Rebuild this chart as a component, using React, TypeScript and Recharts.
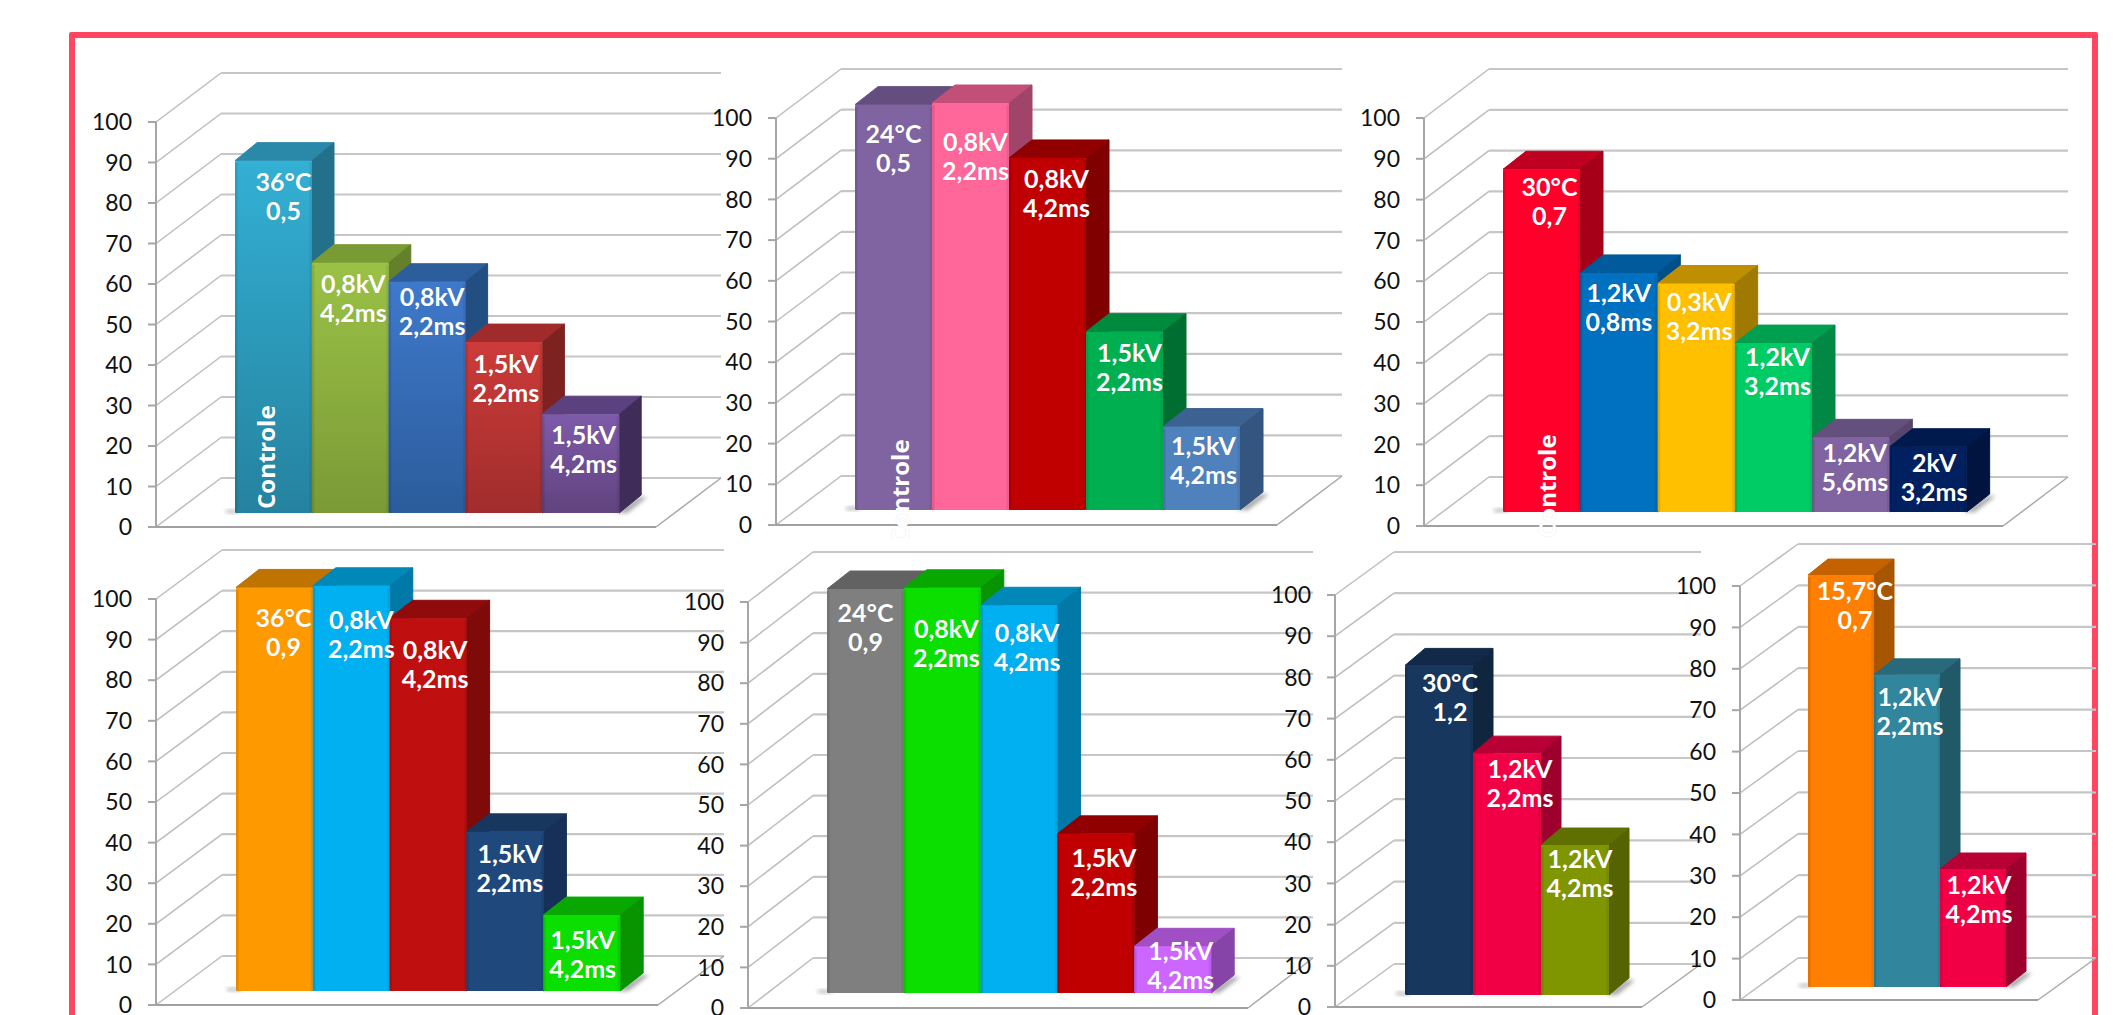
import React from 'react';
import { BarChart, Bar, XAxis, YAxis, CartesianGrid, LabelList } from 'recharts';

const ticks = [0, 10, 20, 30, 40, 50, 60, 70, 80, 90, 100];
const ctrl = 'Controle';

// values per panel
const valuesA = [87, 61.8, 57.1, 42.2, 24.4];
const valuesB = [99.6, 100, 86.5, 43.8, 20.5];
const valuesC = [84, 58.6, 56, 41.4, 18.3, 16];
const valuesD = [99.4, 99.8, 91.8, 39.2, 18.7];
const valuesE = [99.5, 99.8, 95.5, 39.2, 11.5];
const valuesF = [80, 58.7, 36.4];
const valuesG = [99.5, 75.4, 28.5];

const labelsA = [['36°C', '0,5'], ['0,8kV', '4,2ms'], ['0,8kV', '2,2ms'], ['1,5kV', '2,2ms'], ['1,5kV', '4,2ms']];
const labelsB = [['24°C', '0,5'], ['0,8kV', '2,2ms'], ['0,8kV', '4,2ms'], ['1,5kV', '2,2ms'], ['1,5kV', '4,2ms']];
const labelsC = [['30°C', '0,7'], ['1,2kV', '0,8ms'], ['0,3kV', '3,2ms'], ['1,2kV', '3,2ms'], ['1,2kV', '5,6ms'], ['2kV', '3,2ms']];
const labelsD = [['36°C', '0,9'], ['0,8kV', '2,2ms'], ['0,8kV', '4,2ms'], ['1,5kV', '2,2ms'], ['1,5kV', '4,2ms']];
const labelsE = [['24°C', '0,9'], ['0,8kV', '2,2ms'], ['0,8kV', '4,2ms'], ['1,5kV', '2,2ms'], ['1,5kV', '4,2ms']];
const labelsF = [['30°C', '1,2'], ['1,2kV', '2,2ms'], ['1,2kV', '4,2ms']];
const labelsG = [['15,7°C', '0,7'], ['1,2kV', '2,2ms'], ['1,2kV', '4,2ms']];

// front / top / side colours
const frontsA = ['#33B0D4', '#9BC146', '#3F79CC', '#CC3B39', '#7E5BA9'];
const bottomsA = ['#25829F', '#7A9A36', '#2B5C9B', '#A02D2C', '#61437F'];
const topsA = ['#2A88A8', '#7A9A33', '#2C5E9C', '#A02B2A', '#5C4180'];
const sidesA = ['#22708A', '#64802B', '#234E82', '#7E2221', '#3F2C58'];

const frontsB = ['#8064A2', '#FF6699', '#C00000', '#00B050', '#4F81BD'];
const topsB = ['#644E80', '#C24F78', '#900000', '#008A3E', '#3C6292'];
const sidesB = ['#5C4870', '#A0446A', '#800000', '#006E30', '#335580'];

const frontsC = ['#FF002B', '#0070C0', '#FFC000', '#00CC66', '#8064A2', '#002060'];
const topsC = ['#C00020', '#005A9C', '#BE8F00', '#00A050', '#63507C', '#001A4D'];
const sidesC = ['#A50018', '#004F88', '#A07A00', '#008844', '#57456E', '#001440'];

const frontsD = ['#FF9900', '#00B0F0', '#C00F0F', '#1F497D', '#0ADF00'];
const topsD = ['#BF7300', '#0088B8', '#900B0B', '#17375E', '#08A800'];
const sidesD = ['#A86500', '#0078A8', '#7F0A0A', '#17305A', '#089400'];

const frontsE = ['#7F7F7F', '#0ADF00', '#00B0F0', '#C00000', '#CC66FF'];
const topsE = ['#626262', '#08A800', '#0088B8', '#900000', '#A04FC4'];
const sidesE = ['#5A5A5A', '#089400', '#0078A8', '#7F0000', '#8644A8'];

const frontsF = ['#17375E', '#F20045', '#7F9600'];
const topsF = ['#12294A', '#B80035', '#5F7000'];
const sidesF = ['#10263F', '#9E002E', '#556300'];

const frontsG = ['#FF7F00', '#31859C', '#F20045'];
const topsG = ['#C46200', '#286A7C', '#B80035'];
const sidesG = ['#A85500', '#215968', '#9E002E'];

// label nudges from the top centre of each bar: [dx, dy]
const nudgesA = [[10, 20], [3, 20], [5, 14], [2, 21], [3, 20]];
const nudgesB = [[0, 28], [5, 38], [9, 20], [5, 20], [2, 18]];
const nudgesC = [[8, 17], [0, 19], [3, 17], [4, 13], [4, 15], [6, 15]];
const nudgesD = [[9, 30], [10, 33], [7, 31], [5, 21], [1, 24]];
const nudgesE = [[0, 23], [4, 40], [8, 27], [8, 23], [8, 4]];
const nudgesF = [[11, 17], [13, 15], [5, 13]];
const nudgesG = [[14, 15], [3, 21], [6, 15]];

const FONT = 'Lato, sans-serif';

type Panel = {
  id: string;
  values: number[];
  labels: string[][];
  fronts: string[];
  bottoms?: string[];
  tops: string[];
  sides: string[];
  nudges: number[][];
  axisX: number;
  y100: number;
  y0: number;
  floorRight: number;
  wallDx: number;
  wallDy: number;
  barLeft: number;
  barRight: number;
  baseline: number;
  depthX: number;
  depthY: number;
  ctrlDx: number;
  ctrlLift: number;
};

const panels: Panel[] = [
  { id: 'a', values: valuesA, labels: labelsA, fronts: frontsA, bottoms: bottomsA, tops: topsA, sides: sidesA, nudges: nudgesA,
    axisX: 156, y100: 122, y0: 527, floorRight: 656, wallDx: 65, wallDy: 49, barLeft: 235, barRight: 619, baseline: 513, depthX: 22, depthY: 18, ctrlDx: -8, ctrlLift: 66 },
  { id: 'b', values: valuesB, labels: labelsB, fronts: frontsB, tops: topsB, sides: sidesB, nudges: nudgesB,
    axisX: 776, y100: 118, y0: 525, floorRight: 1277, wallDx: 65, wallDy: 49, barLeft: 855, barRight: 1240, baseline: 510, depthX: 23, depthY: 18, ctrlDx: 6, ctrlLift: 25 },
  { id: 'c', values: valuesC, labels: labelsC, fronts: frontsC, tops: topsC, sides: sidesC, nudges: nudgesC,
    axisX: 1424, y100: 118, y0: 526, floorRight: 2003, wallDx: 65, wallDy: 49, barLeft: 1503, barRight: 1967, baseline: 512, depthX: 23, depthY: 18, ctrlDx: 5, ctrlLift: 32 },
  { id: 'd', values: valuesD, labels: labelsD, fronts: frontsD, tops: topsD, sides: sidesD, nudges: nudgesD,
    axisX: 156, y100: 599, y0: 1005, floorRight: 658, wallDx: 66, wallDy: 49, barLeft: 236, barRight: 620, baseline: 991, depthX: 23, depthY: 18, ctrlDx: 9, ctrlLift: 23 },
  { id: 'e', values: valuesE, labels: labelsE, fronts: frontsE, tops: topsE, sides: sidesE, nudges: nudgesE,
    axisX: 748, y100: 602, y0: 1008, floorRight: 1248, wallDx: 65, wallDy: 50, barLeft: 827, barRight: 1211, baseline: 993, depthX: 23, depthY: 18, ctrlDx: 5, ctrlLift: 30 },
  { id: 'f', values: valuesF, labels: labelsF, fronts: frontsF, tops: topsF, sides: sidesF, nudges: nudgesF,
    axisX: 1335, y100: 595, y0: 1007, floorRight: 1642, wallDx: 59, wallDy: 43, barLeft: 1405, barRight: 1609, baseline: 995, depthX: 20, depthY: 17, ctrlDx: -3, ctrlLift: 45 },
  { id: 'g', values: valuesG, labels: labelsG, fronts: frontsG, tops: topsG, sides: sidesG, nudges: nudgesG,
    axisX: 1740, y100: 586, y0: 1000, floorRight: 2038, wallDx: 58, wallDy: 42, barLeft: 1808, barRight: 2006, baseline: 987, depthX: 20, depthY: 16, ctrlDx: -5, ctrlLift: 37 },
];

const AXIS_W = 70;
const TOP_M = 60;

const pts = (list: number[][]) => list.map((p) => p.join(',')).join(' ');

// a front face plus extruded top and side
const Box3D = (props: any, p: Panel) => {
  const { x, y, width, height, index } = props;
  const lift = p.y0 - p.baseline;
  const top = y - lift;
  const bottom = y + height - lift;
  const r = x + width;
  const dx = p.depthX;
  const dy = p.depthY;
  const last = index === p.values.length - 1;
  const fill = p.bottoms ? `url(#front-${p.id}-${index})` : p.fronts[index];
  return (
    <g>
      {index === 0 && (
        <rect x={x - 9} y={bottom - 3} width={14} height={3} fill="#000" opacity={0.3} filter="url(#soft)" />
      )}
      {last && (
        <polygon
          points={pts([[r - 4, bottom], [r + dx - 2, bottom - dy + 2], [r + dx + 6, bottom - dy + 2], [r + 8, bottom]])}
          fill="#000"
          opacity={0.35}
          filter="url(#soft)"
        />
      )}
      <polygon points={pts([[x, top], [x + dx, top - dy], [r + dx, top - dy], [r, top]])} fill={p.tops[index]} stroke={p.tops[index]} strokeLinejoin="round" />
      <polygon points={pts([[r, top], [r + dx, top - dy], [r + dx, bottom - dy], [r, bottom]])} fill={p.sides[index]} stroke={p.sides[index]} strokeLinejoin="round" />
      <rect x={x} y={top} width={width} height={height} rx={1.5} fill={fill} />
      <rect x={x} y={top + 2} width={2.5} height={height - 2} fill="#000" opacity={0.1} />
      <rect x={r - 2.5} y={top + 2} width={2.5} height={height - 2} fill="#000" opacity={0.07} />
    </g>
  );
};

// the two lines of text on a bar, plus the rotated "Controle" on the first one
const BarText = (props: any, p: Panel) => {
  const { index } = props;
  const vb = props.viewBox ?? props;
  const lift = p.y0 - p.baseline;
  const top = vb.y - lift;
  const cx = vb.x + vb.width / 2 + p.nudges[index][0];
  const line1 = top + p.nudges[index][1];
  const lines = p.labels[index];
  const ctrlX = vb.x + vb.width / 2 + p.ctrlDx;
  const ctrlY = p.baseline - p.ctrlLift;
  return (
    <g fontFamily={FONT} fontWeight={700} fill="#fff" style={{ textShadow: '0 0 1px rgba(0,0,0,0.15)' }}>
      <text x={cx} y={line1} textAnchor="middle" dominantBaseline="central" fontSize={25}>{lines[0]}</text>
      <text x={cx} y={line1 + 29} textAnchor="middle" dominantBaseline="central" fontSize={25}>{lines[1]}</text>
      {index === 0 && (
        <text
          x={ctrlX}
          y={ctrlY}
          transform={`rotate(-90 ${ctrlX} ${ctrlY})`}
          dominantBaseline="central"
          fontFamily="'Open Sans', sans-serif"
          fontSize={24}
        >
          {ctrl}
        </text>
      )}
    </g>
  );
};

// side wall diagonals, back wall lines and the floor edges
const WallLine = (props: any, p: Panel) => {
  const { x1, y1, x2 } = props;
  const bx = x1 + p.wallDx;
  const by = y1 - p.wallDy;
  const isFloor = Math.abs(y1 - (TOP_M + p.y0 - p.y100)) < 1;
  return (
    <g key={`w-${p.id}-${y1}`} fill="none">
      <line x1={x1} y1={y1} x2={bx} y2={by} stroke="#BDBDBD" strokeWidth={1.5} />
      <line x1={bx} y1={by} x2={x2 + p.wallDx} y2={by} stroke="#C6C6C6" strokeWidth={2.2} />
      {isFloor && <line x1={x1} y1={y1} x2={x2} y2={y1} stroke="#A0A0A0" strokeWidth={2.2} />}
      {isFloor && <line x1={x2} y1={y1} x2={x2 + p.wallDx} y2={by} stroke="#A8A8A8" strokeWidth={1.5} />}
    </g>
  );
};

const PanelChart = ({ p }: { p: Panel }) => {
  const data = p.values.map((value, i) => ({ name: `b${i}`, value }));
  const plotH = p.y0 - p.y100;
  const plotW = p.floorRight - p.axisX;
  const width = AXIS_W + plotW + p.wallDx + 6;
  const height = TOP_M + plotH + 14;
  return (
    <div style={{ position: 'absolute', left: p.axisX - AXIS_W, top: p.y100 - TOP_M }}>
      <BarChart
        width={width}
        height={height}
        data={data}
        margin={{ top: TOP_M, right: p.wallDx + 6, bottom: 14, left: 0 }}
        barCategoryGap={0}
        barGap={0}
        style={{ overflow: 'visible' }}
      >
        <defs>
          <filter id="soft" x="-50%" y="-50%" width="200%" height="200%">
            <feGaussianBlur stdDeviation="2" />
          </filter>
          {p.bottoms &&
            p.fronts.map((c, i) => (
              <linearGradient key={c} id={`front-${p.id}-${i}`} x1="0" y1="0" x2="0" y2="1">
                <stop offset="0%" stopColor={c} />
                <stop offset="100%" stopColor={p.bottoms![i]} />
              </linearGradient>
            ))}
        </defs>
        <CartesianGrid vertical={false} horizontal={(props: any) => WallLine(props, p)} />
        <XAxis dataKey="name" hide padding={{ left: p.barLeft - p.axisX, right: p.floorRight - p.barRight }} />
        <YAxis
          domain={[0, 100]}
          ticks={ticks}
          interval={0}
          width={AXIS_W}
          tickSize={8}
          tickMargin={16}
          axisLine={{ stroke: '#A6A6A6', strokeWidth: 2 }}
          tickLine={{ stroke: '#A6A6A6', strokeWidth: 2 }}
          tick={{ fill: '#111', fontSize: 23, fontFamily: FONT }}
        />
        <Bar dataKey="value" isAnimationActive={false} shape={(props: any) => Box3D(props, p)}>
          <LabelList dataKey="value" content={(props: any) => BarText(props, p)} />
        </Bar>
      </BarChart>
    </div>
  );
};

export default function App() {
  return (
    <div style={{ position: 'absolute', left: 0, top: 0, width: 2126, height: 1015, overflow: 'hidden', background: '#fff' }}>
      <div
        style={{
          position: 'absolute',
          left: 69,
          top: 32,
          width: 2029,
          height: 1100,
          boxSizing: 'border-box',
          border: '6px solid #FF4560',
          borderRadius: 2,
        }}
      />
      {panels.map((p) => (
        <PanelChart key={p.id} p={p} />
      ))}
    </div>
  );
}
